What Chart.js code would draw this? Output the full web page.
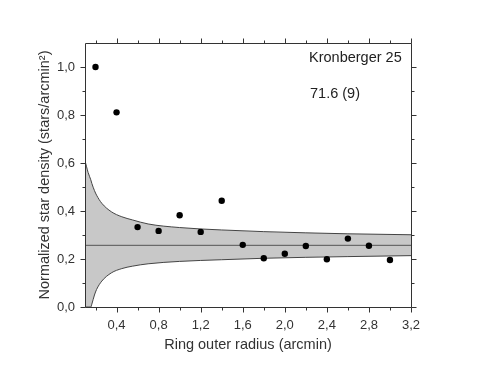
<!DOCTYPE html>
<html>
<head>
<meta charset="utf-8">
<script src="https://cdn.jsdelivr.net/npm/chart.js@4/dist/chart.umd.min.js"></script>
<style>
  html, body { margin: 0; padding: 0; background: #fff; }
  #wrap { width: 477px; height: 369px; }
</style>
</head>
<body>
<div id="wrap"><canvas id="c" width="477" height="369"></canvas></div>
<script>
// ---- data ----
const radii = [0.2, 0.4, 0.6, 0.8, 1.0, 1.2, 1.4, 1.6, 1.8, 2.0, 2.2, 2.4, 2.6, 2.8, 3.0];
const density = [1.0, 0.811, 0.333, 0.317, 0.382, 0.313, 0.443, 0.259, 0.203, 0.222, 0.254, 0.199, 0.285, 0.255, 0.196];
const background = 0.257;
const bandR     = [0.1, 0.13, 0.155, 0.165, 0.19, 0.21, 0.26, 0.35, 0.45, 0.55, 0.7, 1.0, 1.4, 1.8, 2.2, 2.6, 3.2];
const bandUpper = [0.61, 0.56, 0.53, 0.515, 0.485, 0.466, 0.432, 0.397, 0.376, 0.363, 0.346, 0.331, 0.321, 0.314, 0.309, 0.305, 0.301];
const bandLower = [0.0, 0.0, 0.0, 0.012, 0.05, 0.073, 0.108, 0.142, 0.16, 0.17, 0.18, 0.19, 0.197, 0.203, 0.207, 0.21, 0.214];
const xTickValues = [0.4, 0.8, 1.2, 1.6, 2.0, 2.4, 2.8, 3.2];
const xTickLabels = ['0,4', '0,8', '1,2', '1,6', '2,0', '2,4', '2,8', '3,2'];
const xMinorValues = [0.2, 0.6, 1.0, 1.4, 1.8, 2.2, 2.6, 3.0];
const yTickValues = [0.0, 0.2, 0.4, 0.6, 0.8, 1.0];
const yTickLabels = ['0,0', '0,2', '0,4', '0,6', '0,8', '1,0'];
const yMinorValues = [0.1, 0.3, 0.5, 0.7, 0.9];
const clusterName = 'Kronberger 25';
const clusterNote = '71.6 (9)';

const FONT = '"Liberation Sans", Arial, sans-serif';
const AXIS = '#333';

const framePlugin = {
  id: 'frame',
  afterDraw(chart) {
    const ctx = chart.ctx;
    const a = chart.chartArea;
    const xs = chart.scales.x, ys = chart.scales.y;
    const L = Math.round(a.left) + 0.5, R = Math.round(a.right) + 0.5;
    const T = Math.round(a.top) + 0.5, B = Math.round(a.bottom) + 0.5;
    ctx.save();
    ctx.strokeStyle = AXIS;
    ctx.lineWidth = 1;
    ctx.beginPath();
    ctx.moveTo(L, T); ctx.lineTo(R, T); ctx.lineTo(R, B); ctx.lineTo(L, B); ctx.closePath();
    ctx.stroke();
    ctx.beginPath();
    const xt = (vals, len) => vals.forEach(v => {
      const px = Math.round(xs.getPixelForValue(v)) + 0.5;
      ctx.moveTo(px, B); ctx.lineTo(px, B + len);
      ctx.moveTo(px, T); ctx.lineTo(px, T - len);
    });
    const yt = (vals, len) => vals.forEach(v => {
      const py = Math.round(ys.getPixelForValue(v)) + 0.5;
      ctx.moveTo(L, py); ctx.lineTo(L - len, py);
      ctx.moveTo(R, py); ctx.lineTo(R + len, py);
    });
    xt(xTickValues, 5); xt(xMinorValues, 3);
    yt(yTickValues, 5); yt(yMinorValues, 3);
    ctx.stroke();
    // annotations
    ctx.fillStyle = '#222';
    ctx.font = '14.5px ' + FONT;
    ctx.textBaseline = 'middle';
    ctx.textAlign = 'left';
    ctx.fillText(clusterName, 309, 58);
    ctx.fillText(clusterNote, 310, 94);
    ctx.restore();
  }
};

const pts = (xs, ys) => xs.map((x, i) => ({ x: x, y: ys[i] }));

new Chart(document.getElementById('c'), {
  type: 'line',
  data: {
    datasets: [
      {
        label: 'upper',
        order: 4,
        data: pts(bandR, bandUpper),
        borderColor: '#444',
        borderWidth: 1,
        backgroundColor: '#c8c8c8',
        fill: '+1',
        pointRadius: 0,
        cubicInterpolationMode: 'monotone'
      },
      {
        label: 'lower',
        order: 3,
        data: pts(bandR, bandLower),
        borderColor: '#444',
        borderWidth: 1,
        fill: false,
        pointRadius: 0,
        cubicInterpolationMode: 'monotone'
      },
      {
        label: 'background',
        order: 2,
        data: [{ x: 0.1, y: background }, { x: 3.2, y: background }],
        borderColor: '#555',
        borderWidth: 1,
        fill: false,
        pointRadius: 0
      },
      {
        label: 'density',
        order: 1,
        data: pts(radii, density),
        showLine: false,
        pointRadius: 3.2,
        pointBackgroundColor: '#000',
        pointBorderColor: '#000',
        pointBorderWidth: 0,
        fill: false
      }
    ]
  },
  options: {
    responsive: false,
    animation: false,
    events: [],
    layout: { padding: { top: 43, right: 66, left: 0, bottom: 0 } },
    plugins: { legend: { display: false }, tooltip: { enabled: false } },
    scales: {
      x: {
        type: 'linear',
        min: 0.1, max: 3.2,
        grid: { display: false, drawTicks: false },
        border: { display: false },
        afterBuildTicks: s => { s.ticks = xTickValues.map(v => ({ value: v })); },
        afterFit: s => { s.height = 62; },
        ticks: {
          padding: 11,
          color: '#333',
          font: { family: FONT, size: 13 },
          maxRotation: 0,
          callback: (v) => { const i = xTickValues.indexOf(v); return i >= 0 ? xTickLabels[i] : ''; }
        },
        title: {
          display: true,
          text: 'Ring outer radius (arcmin)',
          color: '#333',
          font: { family: FONT, size: 14.5 },
          padding: { top: 0, bottom: 15 }
        }
      },
      y: {
        type: 'linear',
        min: 0, max: 1.1,
        grid: { display: false, drawTicks: false },
        border: { display: false },
        afterBuildTicks: s => { s.ticks = yTickValues.map(v => ({ value: v })); },
        afterFit: s => { s.width = 85; },
        ticks: {
          padding: 10,
          color: '#333',
          font: { family: FONT, size: 13 },
          callback: (v) => { const i = yTickValues.indexOf(v); return i >= 0 ? yTickLabels[i] : ''; }
        },
        title: {
          display: true,
          text: 'Normalized star density (stars/arcmin²)',
          color: '#333',
          font: { family: FONT, size: 14.5 },
          padding: { top: 36, bottom: 0 }
        }
      }
    }
  },
  plugins: [framePlugin]
});
</script>
</body>
</html>
